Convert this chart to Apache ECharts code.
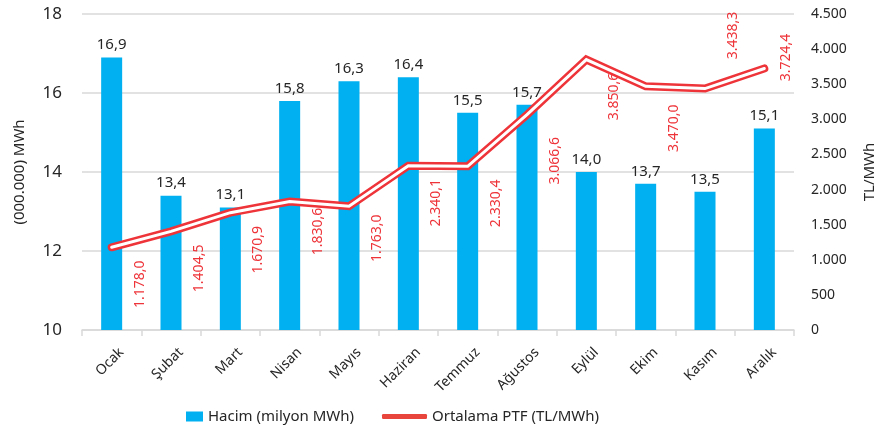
<!DOCTYPE html>
<html>
<head>
<meta charset="utf-8">
<script src="https://cdn.jsdelivr.net/npm/echarts@6/dist/echarts.min.js"></script>
<style>
	html, body { margin: 0; padding: 0; background: #fff; }
	#zoom { width: 885px; height: 426px; }
</style>
</head>
<body>
<div id="zoom"></div>
<script>
	// aylar ve değerler
	const months = ['Ocak', 'Şubat', 'Mart', 'Nisan', 'Mayıs', 'Haziran', 'Temmuz', 'Ağustos', 'Eylül', 'Ekim', 'Kasım', 'Aralık']
	const hacim = [16.9, 13.4, 13.1, 15.8, 16.3, 16.4, 15.5, 15.7, 14.0, 13.7, 13.5, 15.1]
	const ptf = [1178.0, 1404.5, 1670.9, 1830.6, 1763.0, 2340.1, 2330.4, 3066.6, 3850.6, 3470.0, 3438.3, 3724.4]
	const hacimTicks = [10, 12, 14, 16, 18]
	const ptfTicks = [0, 500, 1000, 1500, 2000, 2500, 3000, 3500, 4000, 4500]

	const hacimName = 'Hacim (milyon MWh)'
	const ptfName = 'Ortalama PTF (TL/MWh)'

	// etiket kaydırma (px)
	const ptfLabelShift = {
		'Nisan': [28, 30],
		'Mayıs': [28, 32],
		'Ağustos': [28, 46],
		'Ekim': [28, 42],
		'Kasım': [28, -53],
		'Aralık': [22, -11]
	}

	const txt = '#262626'
	const red = '#EE3339'
	const font = 'Noto Sans'

	const trNum = (v, dec) => {
		let s = v.toFixed(dec).split('.')
		s[0] = s[0].replace(/\B(?=(\d{3})+(?!\d))/g, '.')
		return s.join(',')
	}

	let myChart = echarts.init(document.getElementById('zoom'))

	const option = {
		animation: false,
		textStyle: { fontFamily: font },
		grid: { left: 82, right: 89, top: 14, bottom: 96 },
		legend: [{
			data: [hacimName],
			left: 181, top: 404,
			icon: 'rect', itemWidth: 17, itemHeight: 10,
			textStyle: { fontSize: 15, color: txt, fontFamily: font }
		}, {
			data: [{ name: ptfName, icon: 'roundRect' }],
			left: 377, top: 404,
			itemWidth: 45, itemHeight: 5,
			itemStyle: { color: '#E8453C', borderWidth: 0 },
			textStyle: { fontSize: 15, color: txt, fontFamily: font }
		}],
		xAxis: {
			type: 'category',
			data: months,
			axisLine: { lineStyle: { color: '#d9d9d9', width: 1.5 } },
			axisTick: { show: true, length: 6, lineStyle: { color: '#d9d9d9', width: 1.5 } },
			axisLabel: {
				interval: 0, rotate: 45, margin: 30,
				fontSize: 14, color: txt, fontFamily: font,
				padding: [20, -14, 0, 0]
			}
		},
		yAxis: [{
			type: 'value',
			min: hacimTicks[0], max: hacimTicks[hacimTicks.length - 1],
			interval: hacimTicks[1] - hacimTicks[0],
			name: '(000.000) MWh', nameLocation: 'middle', nameGap: 55,
			nameTextStyle: { fontSize: 15, color: txt, fontFamily: font },
			axisLabel: { fontSize: 17, color: txt, margin: 20 },
			axisLine: { show: false }, axisTick: { show: false },
			splitLine: { lineStyle: { color: '#d9d9d9', width: 1.5 } }
		}, {
			type: 'value',
			min: ptfTicks[0], max: ptfTicks[ptfTicks.length - 1],
			interval: ptfTicks[1] - ptfTicks[0],
			name: 'TL/MWh', nameLocation: 'middle', nameGap: 68, nameRotate: 90,
			nameTextStyle: { fontSize: 15, color: txt, fontFamily: font },
			axisLabel: { fontSize: 14, color: txt, margin: 17, formatter: v => trNum(v, 0) },
			axisLine: { show: false }, axisTick: { show: false },
			splitLine: { show: false }
		}],
		series: [{
			name: hacimName,
			type: 'bar',
			data: hacim,
			barWidth: 21,
			itemStyle: { color: '#00B0F0' },
			label: {
				show: true, position: 'top', distance: 5,
				fontSize: 15, color: txt, fontFamily: font,
				formatter: p => trNum(p.value, 1)
			},
			z: 2
		}, {
			name: ptfName,
			type: 'line',
			yAxisIndex: 1,
			data: ptf.map((v, i) => {
				const sh = ptfLabelShift[months[i]] || [28, 37]
				return { value: v, label: { position: [sh[0] + 1, sh[1] + 1] } }
			}),
			symbol: 'circle', symbolSize: 2, showAllSymbol: true,
			itemStyle: { color: red },
			lineStyle: { color: red, width: 8, cap: 'round', join: 'miter' },
			label: {
				show: true, rotate: 90, align: 'center', verticalAlign: 'middle',
				fontSize: 14, color: red, fontFamily: font,
				formatter: p => trNum(p.value, 1)
			},
			z: 3
		}, {
			// beyaz iç çizgi (çift çizgi görünümü)
			name: 'ptf-core',
			type: 'line',
			yAxisIndex: 1,
			data: ptf,
			symbol: 'none',
			silent: true,
			lineStyle: { color: '#fff', width: 3, cap: 'round', join: 'miter' },
			z: 4
		}]
	}

	myChart.setOption(option)
</script>
</body>
</html>
